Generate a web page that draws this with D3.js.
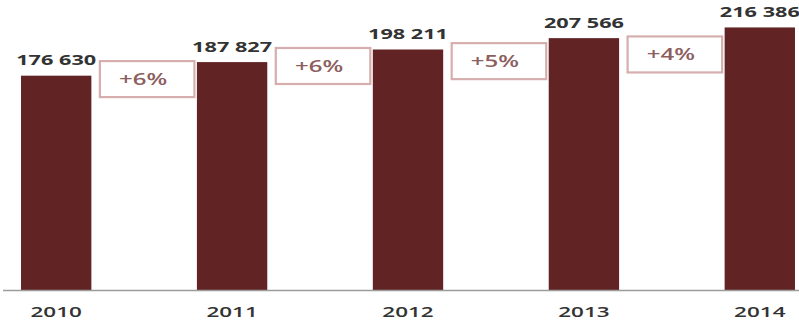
<!DOCTYPE html>
<html>
<head>
<meta charset="utf-8">
<script src="https://cdn.jsdelivr.net/npm/d3@7"></script>
<style>
  html, body { margin: 0; padding: 0; background: #ffffff; }
  svg { display: block; }
  text { font-family: "Open Sans", "DejaVu Sans", sans-serif; }
</style>
</head>
<body>
<div id="chart"></div>
<script>
// Yearly totals
const years = ["2010", "2011", "2012", "2013", "2014"];
const totals = [176630, 187827, 198211, 207566, 216386];
// Year-on-year growth shown between neighbouring bars
const growthLabels = ["+6%", "+6%", "+5%", "+4%"];

const width = 799, height = 329;
const baseY = 290;
const stretch = 1.55;           // wide lettering
const boxNudge = [-1, -1.5, 5, 9]; // vertical tweak of each growth box vs. the next bar top

const svg = d3.select("#chart").append("svg")
  .attr("width", width)
  .attr("height", height);

const x = d3.scaleBand()
  .domain(years)
  .range([21, 795])
  .paddingInner(0.6)
  .paddingOuter(0);

const y = d3.scaleLinear()
  .domain([0, 239000])
  .range([baseY, 0]);

const fmt = v => d3.format(",")(v).replace(/,/g, " ");

// bars
svg.append("g").selectAll("rect")
  .data(years)
  .join("rect")
  .attr("x", d => x(d))
  .attr("y", (d, i) => y(totals[i]))
  .attr("width", x.bandwidth())
  .attr("height", (d, i) => baseY - y(totals[i]))
  .attr("fill", "#612323");

// value labels above bars
svg.append("g").selectAll("text")
  .data(years)
  .join("text")
  .attr("transform", (d, i) => `translate(${x(d) + x.bandwidth() / 2},${y(totals[i]) - 10.5}) scale(${stretch},1)`)
  .attr("text-anchor", "middle")
  .attr("font-size", 14)
  .attr("font-weight", 700)
  .attr("fill", "#333333")
  .text((d, i) => fmt(totals[i]));

// growth boxes between bars
svg.append("g").selectAll("g")
  .data(growthLabels)
  .join("g")
  .each(function(label, i) {
    const g = d3.select(this);
    const left = x(years[i]) + x.bandwidth() + 8.5;
    const right = x(years[i + 1]) - 2.5;
    const top = y(totals[i + 1]) + boxNudge[i];
    const h = 36;
    g.append("rect")
      .attr("x", left)
      .attr("y", top)
      .attr("width", right - left)
      .attr("height", h)
      .attr("fill", "#ffffff")
      .attr("stroke", "#d6aeae")
      .attr("stroke-width", 2.2);
    g.append("text")
      .attr("transform", `translate(${(left + right) / 2 - 4},${top + h / 2 + 6}) scale(${stretch},1)`)
      .attr("text-anchor", "middle")
      .attr("font-size", 15.5)
      .attr("font-weight", 600)
      .attr("fill", "#8c5e5e")
      .text(label);
  });

// baseline
svg.append("line")
  .attr("x1", 3)
  .attr("x2", width)
  .attr("y1", baseY + 0.5)
  .attr("y2", baseY + 0.5)
  .attr("stroke", "#9c9c9c")
  .attr("stroke-width", 1.5);

// year axis
const axis = svg.append("g")
  .attr("transform", `translate(0,${baseY})`)
  .call(d3.axisBottom(x).tickSize(0).tickPadding(0));
axis.select(".domain").remove();
axis.selectAll("text")
  .attr("y", 27)
  .attr("dy", 0)
  .attr("transform", `scale(${stretch},1)`)
  .attr("font-family", "\"Open Sans\", \"DejaVu Sans\", sans-serif")
  .attr("font-size", 14.5)
  .attr("font-weight", 600)
  .attr("fill", "#333333");
</script>
</body>
</html>
